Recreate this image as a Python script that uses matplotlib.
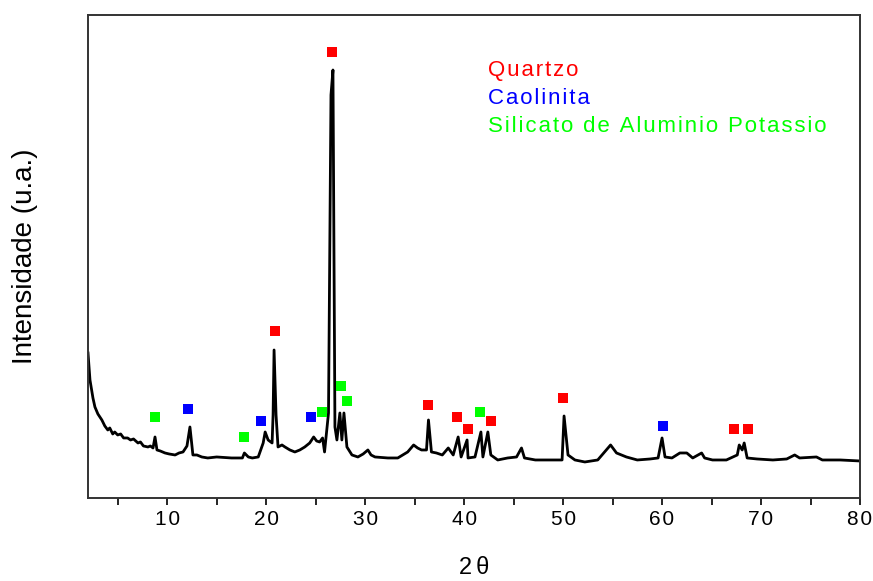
import matplotlib
matplotlib.use('Agg')

import matplotlib.pyplot as plt

plt.rcParams['font.family'] = ['Liberation Sans', 'DejaVu Sans']

HS = '\u200a'  # hair space, para espacar as letras como no original

# difractograma (2 theta, intensidade)
two_theta = [2.0, 2.2, 2.5, 2.7, 3.0, 3.4, 3.7, 4.0, 4.2, 4.5, 4.7, 5.0, 5.3,
             5.6, 6.0, 6.3, 6.6, 7.05, 7.3, 7.6, 8.06, 8.3, 8.57, 8.77, 8.97,
             9.3, 9.78, 10.2, 10.8, 11.2, 11.6, 12.0, 12.3, 12.6, 13.0, 13.5,
             14.1, 15.0, 16.5, 17.6, 17.8, 18.2, 18.6, 19.2, 19.7, 19.9, 20.2,
             20.6, 20.7, 20.8, 21.0, 21.2, 21.6, 21.9, 22.4, 22.9, 23.4, 23.9,
             24.4, 24.8, 25.1, 25.4, 25.7, 25.9, 26.3, 26.55, 26.75, 26.95,
             27.15, 27.45, 27.65, 27.86, 28.16, 28.67, 29.27, 29.8, 30.28, 30.6,
             31.0, 32.3, 33.3, 34.3, 34.9, 35.3, 35.7, 36.2, 36.4, 36.7, 37.2,
             37.8, 38.4, 38.9, 39.4, 39.7, 40.3, 40.4, 41.1, 41.7, 41.9, 42.4,
             42.7, 43.4, 44.4, 45.3, 45.8, 46.1, 47.2, 48.9, 49.9, 50.1, 50.5,
             51.2, 52.2, 53.5, 54.8, 55.4, 56.4, 57.5, 58.8, 59.6, 60.0, 60.3,
             61.0, 61.8, 62.5, 63.1, 64.0, 64.3, 65.1, 66.5, 67.6, 67.8, 68.1,
             68.3, 68.6, 69.6, 71.2, 72.6, 73.4, 73.9, 75.6, 76.2, 78.0, 79.8,
             80.0]
intensidade = [145, 118, 100, 91, 84, 78, 72, 68, 70, 64, 66, 63, 64,
               60, 60, 58, 59, 55, 56, 52, 51, 52, 50, 61, 48,
               47, 45, 44, 43, 45, 46, 52, 71, 43, 43, 41,
               40, 41, 40, 40, 45, 41, 40, 41, 55, 66, 58,
               55, 83, 148, 83, 51, 53, 51, 48, 46, 48, 51,
               55, 61, 57, 56, 60, 46, 85, 403, 428, 71,
               58, 85, 58, 85, 51, 43, 41, 44, 48, 43,
               41, 40, 40, 46, 53, 50, 48, 48, 78, 46, 45,
               43, 50, 43, 61, 41, 58, 40, 41, 66, 41, 66,
               43, 38, 40, 41, 50, 40, 38, 38, 38, 82, 43,
               38, 36, 38, 53, 45, 41, 38, 39, 40, 60, 41,
               40, 45, 45, 40, 45, 40, 38, 38, 43, 53, 48,
               55, 40, 39, 38, 39, 43, 40, 41, 38, 38, 37,
               37]

# picos identificados
quartzo_x = [26.65, 20.9, 36.4, 39.3, 40.4, 42.7, 50.0, 67.3, 68.7]
quartzo_y = [446, 167, 93, 81, 69, 77, 100, 69, 69]
caolinita_x = [12.1, 19.5, 24.5, 60.1]
caolinita_y = [89, 77, 81, 72]
silicato_x = [8.8, 17.8, 25.6, 27.6, 28.2, 41.6]
silicato_y = [81, 61, 86, 112, 97, 86]

legenda = ['Quartzo', 'Caolinita', 'Silicato de Aluminio Potassio']
cores = ['#ff0000', '#0000ff', '#00ff00']

xticks = [10, 20, 30, 40, 50, 60, 70, 80]


def espacar(s):
    return HS.join(s)


fig = plt.figure(figsize=(8.73, 5.81), dpi=100)
ax = fig.add_axes([0.1008, 0.1429, 0.8843, 0.8313])

ax.plot(two_theta, intensidade, color='black', lw=2.0)

ax.plot(quartzo_x, quartzo_y, 's', color=cores[0], ms=7, mew=0)
ax.plot(caolinita_x, caolinita_y, 's', color=cores[1], ms=7, mew=0)
ax.plot(silicato_x, silicato_y, 's', color=cores[2], ms=7, mew=0)

# legenda feita com texto colorido
ypos = [0.886, 0.828, 0.770]
for nome, cor, yy in zip(legenda, cores, ypos):
    ax.text(0.518, yy, espacar(nome), color=cor, fontsize=16,
            transform=ax.transAxes, va='center')

ax.set_xlim(2, 80)
ax.set_ylim(0, 483)
ax.set_xticks(xticks)
ax.set_xticklabels([espacar(str(t)) for t in xticks])
ax.set_xticks([5, 15, 25, 35, 45, 55, 65, 75], minor=True)
ax.set_yticks([])
ax.tick_params(axis='x', which='both', direction='out', length=5,
               width=1.2, labelsize=15, pad=4)

for s in ax.spines.values():
    s.set_linewidth(1.4)
    s.set_color('#333333')

ax.set_xlabel('2' + HS + HS + '\u03b8', fontsize=17)
ax.xaxis.label.set_va('center')
ax.xaxis.set_label_coords(0.5, -0.145)
ax.set_ylabel('Intensidade (u.a.)', fontsize=20)
ax.yaxis.label.set_va('center')
ax.yaxis.set_label_coords(-0.082, 0.5)

plt.savefig('out.png', dpi=100)
